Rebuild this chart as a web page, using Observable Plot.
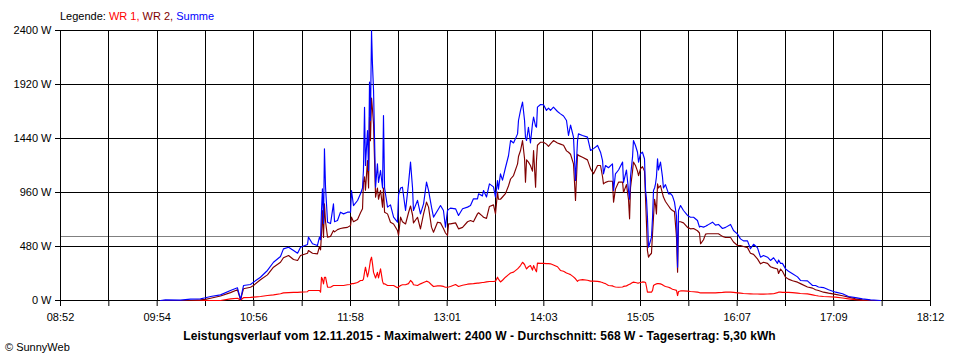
<!DOCTYPE html>
<html>
<head>
<meta charset="utf-8">
<script src="https://cdn.jsdelivr.net/npm/d3@7"></script>
<script src="https://cdn.jsdelivr.net/npm/@observablehq/plot@0.6"></script>
<style>
  html, body { margin: 0; padding: 0; background: #fff; }
  #wrap { position: relative; width: 960px; height: 360px; overflow: hidden; font-family: "Liberation Sans", Arial, sans-serif; color: #000; }
  #chart { position: absolute; left: 0; top: 0; }
  .txt { position: absolute; font-size: 11px; line-height: 13px; white-space: nowrap; }
  #legend { left: 60px; top: 10px; }
  #title { left: 0; width: 959px; text-align: center; top: 330px; font-weight: bold; font-size: 12px; letter-spacing: 0.1px; }
  #copy { left: 5px; top: 341px; }
</style>
</head>
<body>
<div id="wrap">
  <div id="chart"></div>
  <div id="legend" class="txt">Legende: <span style="color:#ff0000">WR 1,</span> <span style="color:#800000">WR 2,</span> <span style="color:#0000ff">Summe</span></div>
  <div id="title" class="txt">Leistungsverlauf vom 12.11.2015 - Maximalwert: 2400 W - Durchschnitt: 568 W - Tagesertrag: 5,30 kWh</div>
  <div id="copy" class="txt">© SunnyWeb</div>
</div>
<script>
// Tick labels (time of day) and power ticks
const tickLabels = ["08:52","09:54","10:56","11:58","13:01","14:03","15:05","16:07","17:09","18:12"];
const yTicks = [0, 480, 960, 1440, 1920, 2400];
const average = 568;

// Sample times, minutes after midnight
const minutes = [
596.4,599.6,609.2,615.7,622.1,625.3,628.6,635.0,641.4,645.9,647.9,649.8,654.3,656.2,660.7,665.2,669.1,673.6,675.5,678.8,
682.0,684.6,686.5,691.0,691.6,694.2,697.4,698.7,699.4,700.0,700.6,701.3,701.9,702.6,703.9,705.8,707.7,708.4,710.3,712.2,
714.2,716.7,718.7,719.3,720.6,723.2,725.1,726.4,727.0,727.7,728.3,729.6,730.3,730.9,731.5,732.2,732.8,733.5,734.8,736.0,
736.7,738.0,739.3,739.9,740.6,742.5,744.4,746.4,748.9,749.6,750.9,752.1,754.1,756.0,757.3,758.6,759.2,761.8,763.7,765.7,
767.6,768.9,770.8,772.1,774.7,776.6,778.5,779.8,781.1,781.8,783.0,786.3,788.2,790.8,794.0,795.9,797.8,800.4,801.1,803.6,
804.3,806.2,808.1,810.7,812.0,813.3,813.9,815.2,816.5,818.4,820.4,821.7,823.6,826.2,826.8,828.1,829.4,830.7,831.3,832.0,
833.2,834.5,835.8,836.5,837.8,838.4,839.0,841.0,842.9,844.8,846.1,847.4,849.3,851.9,853.8,855.8,857.7,859.0,860.3,862.2,
863.5,864.8,865.4,868.0,871.2,873.2,875.1,877.7,879.6,880.9,881.5,882.8,884.7,887.3,888.0,889.2,891.2,893.8,894.4,896.3,
897.6,898.3,898.9,900.2,900.8,902.1,903.4,904.1,905.3,906.6,907.9,908.6,909.2,909.8,910.5,911.1,912.4,913.1,913.7,914.4,
915.0,915.6,916.3,916.9,918.2,919.5,920.1,921.4,923.4,924.7,925.9,927.2,928.5,929.2,929.8,931.1,933.0,935.6,937.5,939.5,
942.0,943.3,944.0,945.9,947.2,948.5,951.7,953.6,955.5,958.1,960.1,963.3,965.2,967.8,969.7,971.6,974.2,976.1,978.1,980.6,
982.6,984.5,987.1,989.0,991.0,993.5,994.2,995.5,996.7,998.7,1000.6,1003.2,1006.4,1008.3,1012.8,1016.1,1018.0,1019.9,1023.1,1026.4,
1030.9,1035.4,1039.2,1043.7,1048.2,1053.4,1059.8
];

// WR 1 (W)
const wr1 = [
0,0,0,0,0,0,0,0,15,20,5,25,28,30,36,44,50,60,68,70,
72,72,74,78,89,89,89,89,74,207,190,148,207,207,118,118,133,133,133,133,
133,140,142,150,150,160,178,178,190,250,296,210,250,300,356,385,330,250,200,250,
200,281,170,148,148,133,133,133,113,120,133,140,140,150,178,160,140,133,148,160,
172,165,140,124,130,130,125,118,118,120,125,142,125,135,145,148,150,155,155,160,
160,165,169,169,172,207,190,165,180,207,230,245,252,281,290,311,340,320,300,281,
300,311,270,311,270,255,332,330,330,328,328,326,315,300,267,260,245,237,230,210,
193,170,180,185,180,172,172,170,165,160,155,150,133,130,125,120,118,120,125,130,
140,145,148,160,163,160,155,155,160,165,163,160,120,74,74,74,74,90,133,140,
145,148,150,150,148,140,133,125,118,110,100,95,90,44,80,85,85,83,80,78,
75,70,68,68,68,68,68,68,70,72,75,75,72,68,65,62,60,59,58,58,
57,57,58,59,60,70,74,74,72,72,72,70,65,62,59,50,44,40,36,33,
30,22,15,8,2,0,0
];

// WR 2 (W)
const wr2 = [
0,0,0,0,5,10,20,40,70,95,5,105,118,133,184,228,296,340,380,400,
364,356,400,420,444,420,415,480,450,593,800,560,859,700,563,570,622,610,630,640,
646,650,667,741,700,720,780,815,1052,1100,980,1244,1000,1630,1420,1800,1700,1570,919,1000,
900,978,830,1000,785,770,696,680,622,580,741,700,680,780,840,760,690,740,637,770,
874,830,652,607,696,690,640,600,578,681,681,690,637,650,700,711,700,770,780,750,
740,730,836,850,770,963,900,900,920,950,1020,1080,1111,1215,1280,1333,1422,1260,1052,1250,
1230,1200,1150,1333,1007,1250,1380,1407,1407,1390,1370,1393,1422,1400,1390,1380,1330,1318,1300,1215,
889,1300,1290,1274,1250,1170,1126,1200,1200,1100,1037,1050,1060,1060,874,990,1052,1052,960,1030,
900,726,1000,1150,1230,1200,1150,1110,1170,1190,1150,900,681,444,385,400,420,600,741,900,
850,770,1037,1000,1022,950,919,880,840,815,800,790,563,252,700,700,690,650,637,640,
620,600,504,540,590,593,593,593,593,570,560,560,520,489,489,480,470,420,410,370,
326,340,330,300,290,280,240,280,260,207,190,175,163,150,120,110,95,89,74,65,
55,42,30,15,5,0,0
];

// Summe (W)
const summe = [
0,5,3,12,15,24,36,50,89,113,10,133,142,163,207,267,340,391,459,474,
444,420,474,498,563,504,489,563,540,800,993,684,1348,1007,696,684,859,700,711,785,
770,785,785,978,844,889,948,1000,1156,1718,1200,1511,1156,1941,1600,2400,2104,1867,1007,1215,
1050,1156,1000,1644,1000,830,850,741,696,940,1000,1007,800,1037,1230,1000,800,890,770,859,
1052,978,830,741,800,844,800,652,800,810,821,815,756,815,830,844,904,904,948,930,
978,920,1037,1010,919,1067,990,1126,1070,1180,1289,1422,1400,1481,1600,1689,1763,1600,1450,1422,
1540,1400,1570,1630,1550,1540,1719,1742,1740,1690,1710,1689,1718,1680,1659,1640,1600,1467,1560,1452,
1067,1420,1481,1467,1452,1333,1350,1378,1318,1244,1126,1200,1180,1215,978,1126,1160,1230,1050,1160,
978,900,1100,1274,1422,1378,1318,1230,1304,1318,1260,978,900,741,474,500,563,741,978,1000,
1037,1100,1259,1160,1230,1096,1000,1030,948,950,930,874,750,296,800,844,800,756,740,740,
711,652,660,652,660,670,696,670,676,640,650,676,622,590,548,530,530,460,500,470,
385,400,385,356,380,330,360,330,330,281,260,237,210,178,175,133,133,120,115,95,
74,60,36,25,15,6,0
];

const toMin = s => { const [h, m] = s.split(":").map(Number); return h * 60 + m; };
const xStart = toMin(tickLabels[0]);
const xEnd = toMin(tickLabels[tickLabels.length - 1]);
const nInt = (tickLabels.length - 1) * 2;
const gridX = d3.range(nInt + 1).map(k => xStart + k * (xEnd - xStart) / nInt);
const labelAt = new Map(gridX.map((v, k) => [v, k % 2 === 0 ? tickLabels[k / 2] : ""]));

const idx = {length: minutes.length};

const chart = Plot.plot({
  width: 960,
  height: 360,
  marginLeft: 60,
  marginRight: 30,
  marginTop: 30,
  marginBottom: 60,
  style: {fontFamily: "'Liberation Sans', Arial, sans-serif", fontSize: "11px", background: "transparent", color: "#000", overflow: "visible"},
  x: {type: "linear", domain: [xStart, xEnd], ticks: gridX, tickFormat: d => labelAt.get(d) ?? "", tickSize: 6, tickPadding: 7, label: null},
  y: {type: "linear", domain: [0, 2400], ticks: yTicks, tickFormat: d => `${d} W`, tickSize: 5, tickPadding: 4, label: null},
  marks: [
    Plot.ruleY([average], {stroke: "#808080", strokeWidth: 1, shapeRendering: "crispEdges"}),
    Plot.ruleY(yTicks, {stroke: "#000", strokeWidth: 1, shapeRendering: "crispEdges"}),
    Plot.ruleX(gridX, {stroke: "#000", strokeWidth: 1, shapeRendering: "crispEdges"}),
    Plot.line(idx, {x: minutes, y: wr1, stroke: "#ff0000", strokeWidth: 1.15}),
    Plot.line(idx, {x: minutes, y: wr2, stroke: "#800000", strokeWidth: 1.15}),
    Plot.line(idx, {x: minutes, y: summe, stroke: "#0000ff", strokeWidth: 1.15})
  ]
});
document.getElementById("chart").appendChild(chart);
</script>
</body>
</html>
